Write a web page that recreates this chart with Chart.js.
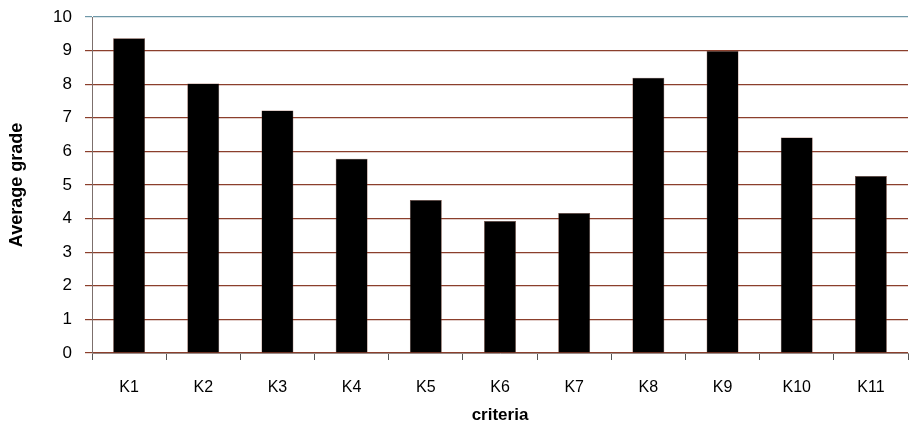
<!DOCTYPE html>
<html>
<head>
<meta charset="utf-8">
<script src="https://cdn.jsdelivr.net/npm/chart.js@4/dist/chart.umd.min.js"></script>
<style>
  html, body { margin: 0; padding: 0; background: #fff; }
  #wrap { width: 914px; height: 428px; }
</style>
</head>
<body>
<div id="wrap"><canvas id="gradeChart" width="914" height="428"></canvas></div>
<script>
// chart data
const categories = ['K1', 'K2', 'K3', 'K4', 'K5', 'K6', 'K7', 'K8', 'K9', 'K10', 'K11'];
const averageGrade = [9.37, 8.02, 7.22, 5.78, 4.55, 3.93, 4.17, 8.19, 8.99, 6.41, 5.27];
const yTicks = [0, 1, 2, 3, 4, 5, 6, 7, 8, 9, 10];

const ctx = document.getElementById('gradeChart').getContext('2d');
new Chart(ctx, {
  type: 'bar',
  data: {
    labels: categories,
    datasets: [{
      label: 'Average grade',
      data: averageGrade,
      backgroundColor: '#000000',
      borderColor: '#7a3a28',
      borderWidth: 0.5,
      barPercentage: 0.43,
      categoryPercentage: 1.0
    }]
  },
  options: {
    responsive: false,
    animation: false,
    layout: { padding: { left: 0, right: 6, top: 17, bottom: 0 } },
    plugins: {
      legend: { display: false },
      tooltip: { enabled: false }
    },
    scales: {
      x: {
        offset: true,
        grid: {
          offset: true,
          drawOnChartArea: false,
          drawTicks: true,
          tickLength: 7,
          color: '#555555'
        },
        border: { color: '#9a8a86', width: 1 },
        ticks: {
          color: '#000',
          font: { family: 'Liberation Sans, Arial', size: 16 },
          padding: 18,
          maxRotation: 0
        },
        title: {
          display: true,
          text: 'criteria',
          color: '#000',
          font: { family: 'Liberation Sans, Arial', size: 17, weight: 'bold' },
          padding: { top: 0, bottom: 2 }
        },
        afterFit: (scale) => { scale.height = 75; }
      },
      y: {
        min: 0,
        max: 10,
        afterBuildTicks: (scale) => { scale.ticks = yTicks.map(v => ({ value: v })); },
        grid: {
          color: (c) => c.tick && c.tick.value === 10 ? '#6f98a8' : '#8b3f2c',
          lineWidth: 1.2,
          tickLength: 7
        },
        border: { color: '#7c6f6c', width: 1 },
        ticks: {
          color: '#000',
          font: { family: 'Liberation Sans, Arial', size: 17 },
          padding: 13
        },
        title: {
          display: true,
          text: 'Average grade',
          color: '#000',
          font: { family: 'Liberation Sans, Arial', size: 18, weight: 'bold' },
          padding: { top: 6, bottom: 0 }
        },
        afterFit: (scale) => {
          scale.width = 92;
          scale.paddingTop = 0;
          scale.paddingBottom = 0;
        }
      }
    }
  }
});
</script>
</body>
</html>
